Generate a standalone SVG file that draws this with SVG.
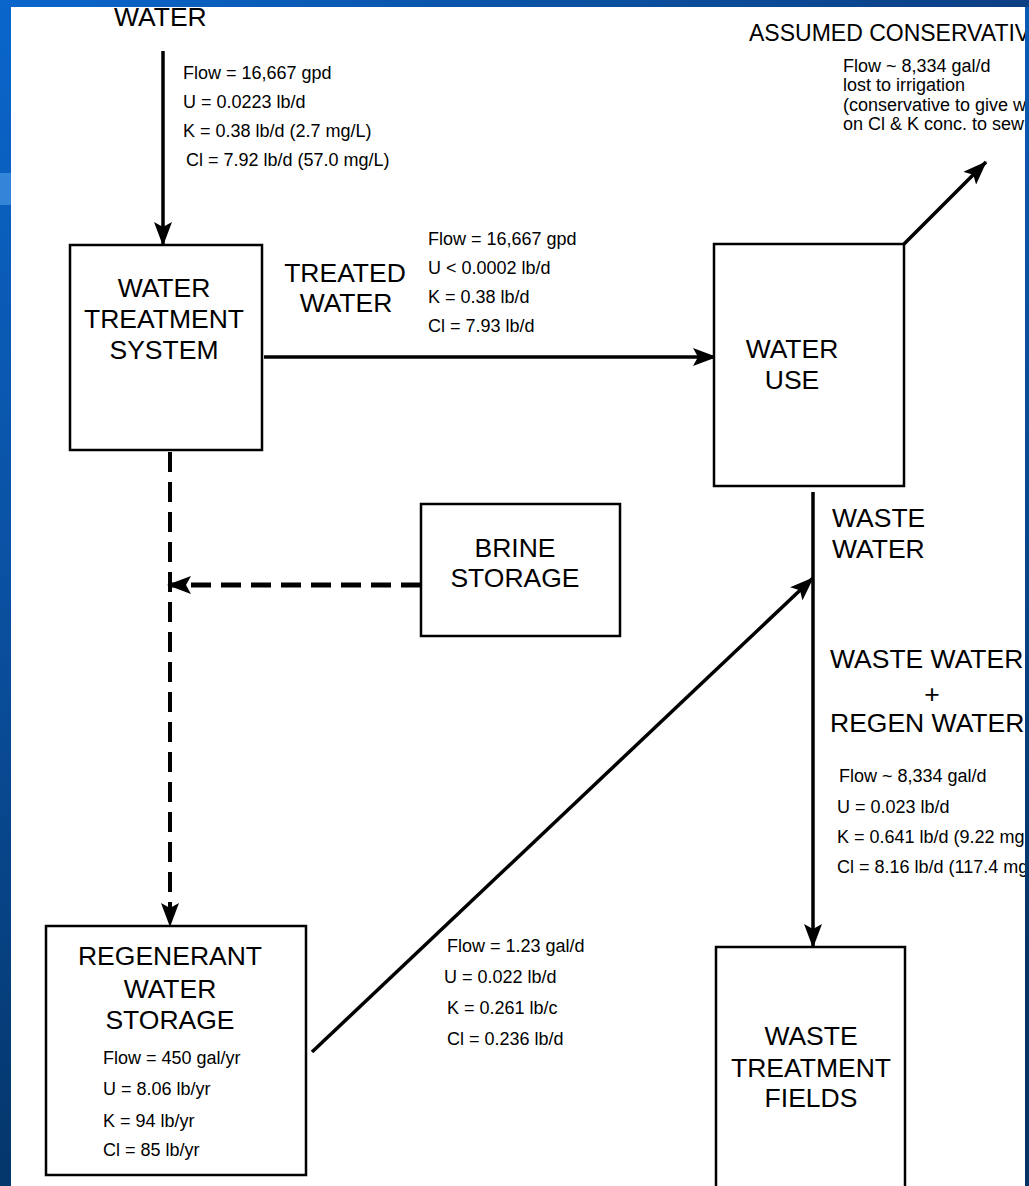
<svg xmlns="http://www.w3.org/2000/svg" width="1029" height="1186" viewBox="0 0 1029 1186">
<defs>
<linearGradient id="bg" x1="0" y1="0" x2="0.25" y2="1">
<stop offset="0" stop-color="#0a66cc"/>
<stop offset="0.5" stop-color="#0a4f9e"/>
<stop offset="1" stop-color="#033364"/>
</linearGradient>
<linearGradient id="topband" x1="0" y1="0" x2="1" y2="0">
<stop offset="0" stop-color="#0a66cc"/>
<stop offset="0.6" stop-color="#0b4f9f"/>
<stop offset="1" stop-color="#0c3f84"/>
</linearGradient>
<clipPath id="page"><rect x="11" y="7" width="1014" height="1179"/></clipPath>
<marker id="ah" viewBox="0 0 24 18" refX="23" refY="9" markerWidth="24" markerHeight="18" markerUnits="userSpaceOnUse" orient="auto">
<path d="M0,0 L24,9 L0,18 L5,9 Z" fill="#000"/>
</marker>
</defs>
<style>
.big{font-family:"Liberation Sans",Arial,sans-serif;font-size:26.5px;fill:#000}
.mid{font-family:"Liberation Sans",Arial,sans-serif;font-size:23px;fill:#000}
.sm{font-family:"Liberation Sans",Arial,sans-serif;font-size:18px;fill:#000}
.c{text-anchor:middle}
.box{fill:#fff;stroke:#000;stroke-width:2.5}
.ln{fill:none;stroke:#000;stroke-width:3.5}
.dsh{fill:none;stroke:#000;stroke-dasharray:20 10}
</style>
<rect x="0" y="0" width="1029" height="1186" fill="url(#bg)"/>
<rect x="0" y="0" width="1029" height="7" fill="url(#topband)"/>
<rect x="0" y="173" width="11" height="32" fill="#3f8fe0" opacity="0.8"/>
<rect x="11" y="7" width="1014" height="1179" fill="#fff"/>
<g clip-path="url(#page)">
<g id="connectors">
<line class="ln" x1="163" y1="51" x2="163" y2="245" marker-end="url(#ah)"/>
<line class="ln" x1="264" y1="357" x2="716" y2="357" stroke-width="4" marker-end="url(#ah)"/>
<line class="ln" x1="904" y1="244" x2="986" y2="162" marker-end="url(#ah)"/>
<line class="dsh" x1="170" y1="452" x2="170" y2="926" stroke-width="4" marker-end="url(#ah)"/>
<line class="dsh" x1="421" y1="585" x2="168" y2="585" stroke-width="5" marker-end="url(#ah)"/>
<line class="ln" x1="813" y1="492" x2="813" y2="947" stroke-width="4" marker-end="url(#ah)"/>
<line class="ln" x1="312" y1="1052" x2="813" y2="578" marker-end="url(#ah)"/>
</g>
<g id="water-label">
<text class="big" x="114" y="26">WATER</text>
</g>
<g id="raw-water-data">
<text class="sm" x="183" y="79">Flow = 16,667 gpd</text>
<text class="sm" x="183" y="108">U = 0.0223 lb/d</text>
<text class="sm" x="183" y="137">K = 0.38 lb/d (2.7 mg/L)</text>
<text class="sm" x="186" y="166">Cl = 7.92 lb/d (57.0 mg/L)</text>
</g>
<g id="water-treatment-system">
<rect class="box" x="70" y="245" width="192" height="205"/>
<text class="big c" x="164" y="297">WATER</text>
<text class="big c" x="164" y="328">TREATMENT</text>
<text class="big c" x="164" y="359">SYSTEM</text>
</g>
<g id="treated-water-label">
<text class="big c" x="345" y="282">TREATED</text>
<text class="big c" x="346" y="312">WATER</text>
<text class="sm" x="428" y="245">Flow = 16,667 gpd</text>
<text class="sm" x="428" y="274">U &lt; 0.0002 lb/d</text>
<text class="sm" x="428" y="303">K = 0.38 lb/d</text>
<text class="sm" x="428" y="332">Cl = 7.93 lb/d</text>
</g>
<g id="water-use">
<rect class="box" x="714" y="244" width="190" height="242"/>
<text class="big c" x="792" y="358">WATER</text>
<text class="big c" x="792" y="389">USE</text>
</g>
<g id="assumed-conservative">
<text class="mid" x="749" y="41">ASSUMED CONSERVATIV</text>
<text class="sm" x="843" y="72">Flow ~ 8,334 gal/d</text>
<text class="sm" x="843" y="91">lost to irrigation</text>
<text class="sm" x="843" y="111">(conservative to give w</text>
<text class="sm" x="843" y="130">on Cl &amp; K conc. to sew</text>
</g>
<g id="brine-storage">
<rect class="box" x="421" y="504" width="199" height="132"/>
<text class="big c" x="515" y="557">BRINE</text>
<text class="big c" x="515" y="587">STORAGE</text>
</g>
<g id="waste-water-label">
<text class="big" x="832" y="527">WASTE</text>
<text class="big" x="832" y="558">WATER</text>
</g>
<g id="combined-label">
<text class="big" x="830" y="668">WASTE WATER</text>
<text class="big c" x="932" y="703">+</text>
<text class="big" x="830" y="732">REGEN WATER</text>
<text class="sm" x="839" y="782">Flow ~ 8,334 gal/d</text>
<text class="sm" x="837" y="813">U = 0.023 lb/d</text>
<text class="sm" x="837" y="843">K = 0.641 lb/d (9.22 mg</text>
<text class="sm" x="837" y="873">Cl = 8.16 lb/d (117.4 mg</text>
</g>
<g id="regenerant-water-storage">
<rect class="box" x="46" y="926" width="260" height="249"/>
<text class="big c" x="170" y="965">REGENERANT</text>
<text class="big c" x="170" y="998">WATER</text>
<text class="big c" x="170" y="1029">STORAGE</text>
<text class="sm" x="103" y="1064">Flow = 450 gal/yr</text>
<text class="sm" x="103" y="1095">U = 8.06 lb/yr</text>
<text class="sm" x="103" y="1127">K = 94 lb/yr</text>
<text class="sm" x="103" y="1156">Cl = 85 lb/yr</text>
</g>
<g id="regen-flow-data">
<text class="sm" x="447" y="952">Flow = 1.23 gal/d</text>
<text class="sm" x="444" y="983">U = 0.022 lb/d</text>
<text class="sm" x="447" y="1014">K = 0.261 lb/c</text>
<text class="sm" x="447" y="1045">Cl = 0.236 lb/d</text>
</g>
<g id="waste-treatment-fields">
<rect class="box" x="716" y="947" width="189" height="260"/>
<text class="big c" x="811" y="1045">WASTE</text>
<text class="big c" x="811" y="1077">TREATMENT</text>
<text class="big c" x="811" y="1107">FIELDS</text>
</g>
</g>
</svg>
